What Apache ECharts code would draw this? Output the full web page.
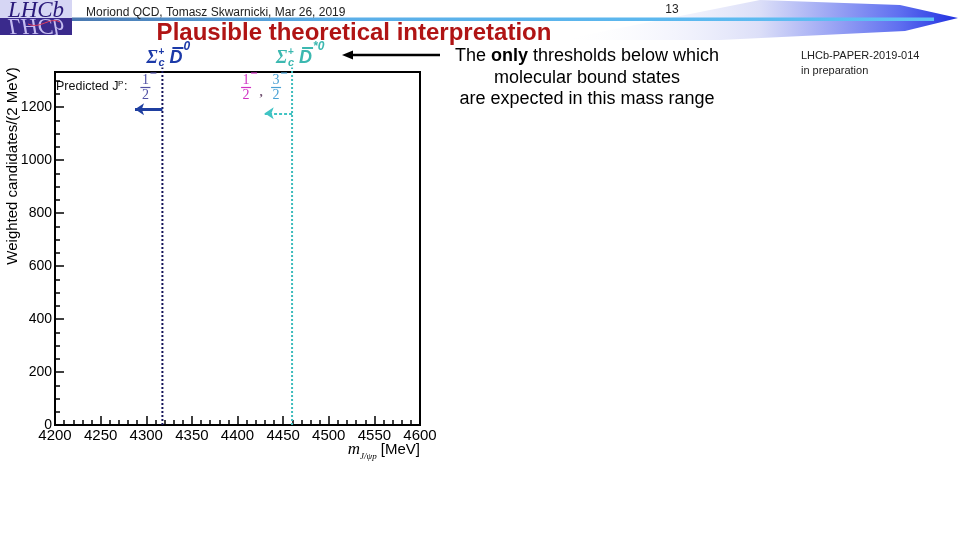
<!DOCTYPE html>
<html><head><meta charset="utf-8">
<script src="https://cdn.jsdelivr.net/npm/echarts@6/dist/echarts.min.js"></script>
<style>html,body{margin:0;padding:0;background:#fff}#c{width:960px;height:540px}</style>
</head><body><div id="c"></div>
<script>
// ---- data ----
const xRange = [4200, 4600];
const yRange = [0, 1333];
const xMajorStep = 50;
const yMajorStep = 200;
const yMinorStep = 50;
const thresholdMasses = [4317.7, 4459.8];          // Σc+ D̄0 , Σc+ D̄*0
const thresholdTop = 1350;
const thresholdColors = ['#14145a', '#3cbcbc'];
const thresholdSup = ['0', '*0'];
const arrowHeights = [1192, 1177];
const arrowLengths = [30, 30];
const arrowColors = ['#1f3fa0', '#40c4c4'];
const arrowStyles = ['solid', 'dashed'];

const sans = 'Liberation Sans';
const serif = 'Liberation Serif';

const chart = echarts.init(document.getElementById('c'), null, {renderer: 'canvas'});

const series = [];
thresholdMasses.forEach((m, i) => {
  series.push({
    type: 'line', name: 'thr' + i, xAxisIndex: 0, yAxisIndex: 0,
    data: [[m, yRange[0]], [m, thresholdTop]],
    symbol: 'none', clip: false, silent: true,
    lineStyle: {color: thresholdColors[i], width: 2, type: [2, 2]},
    markLine: {
      silent: true, symbol: ['none', 'arrow'], symbolSize: [9, 9],
      label: {show: false},
      lineStyle: {color: arrowColors[i], width: i === 0 ? 3 : 2, type: arrowStyles[i] === 'dashed' ? [3, 2] : 'solid'},
      data: [[{coord: [m, arrowHeights[i]]}, {coord: [m - arrowLengths[i], arrowHeights[i]]}]]
    }
  });
});

const option = {
  animation: false,
  backgroundColor: '#fff',
  grid: {left: 55, top: 72, width: 365, height: 353, show: true, borderColor: '#000', borderWidth: 2, backgroundColor: 'transparent'},
  xAxis: [{
    type: 'value', min: xRange[0], max: xRange[1], interval: xMajorStep,
    axisLine: {lineStyle: {color: '#000', width: 2}},
    axisTick: {inside: true, length: 9, lineStyle: {color: '#000', width: 1.5}},
    minorTick: {show: true, splitNumber: 5, length: 5, lineStyle: {color: '#000', width: 1.5}},
    splitLine: {show: false},
    axisLabel: {color: '#000', fontFamily: sans, fontSize: 15, margin: 3, formatter: v => String(v)}
  }],
  yAxis: [{
    type: 'value', min: yRange[0], max: yRange[1], interval: yMajorStep,
    axisLine: {show: true, lineStyle: {color: '#000', width: 2}},
    axisTick: {show: true, inside: true, length: 9, lineStyle: {color: '#000', width: 1.5}},
    splitLine: {show: false},
    axisLabel: {color: '#000', fontFamily: sans, fontSize: 14, margin: 3,
      formatter: v => (v % yMajorStep === 0 ? String(v) : '')}
  }, {
    type: 'value', min: yRange[0], max: yRange[1], interval: yMinorStep, position: 'left',
    axisLine: {show: false},
    axisTick: {show: true, inside: true, length: 5, lineStyle: {color: '#000', width: 1.5}},
    splitLine: {show: false},
    axisLabel: {show: false}
  }],
  series: series
};
chart.setOption(option);

// ---- annotations positioned from the axes ----
const px = v => chart.convertToPixel({xAxisIndex: 0}, v);
const g = [];
function txt(x, y, s, font, color, align, extra) {
  g.push(Object.assign({type: 'text', x: x, y: y, silent: true,
    style: {text: s, font: font, fill: color, align: align || 'left', verticalAlign: 'middle'}}, extra || {}));
}

// slide header decorations
g.push({type: 'polygon', silent: true, shape: {points: [[560, 40], [760, 0], [900, 5], [958, 18], [905, 31], [720, 40]]},
  style: {fill: new echarts.graphic.LinearGradient(0, 0, 1, 0, [
    {offset: 0, color: 'rgba(255,255,255,0)'}, {offset: 0.5, color: '#dcdff8'}, {offset: 0.85, color: '#6070f0'}, {offset: 1, color: '#2030e0'}])}});
g.push({type: 'rect', silent: true, shape: {x: 72, y: 17.5, width: 862, height: 3.5},
  style: {fill: new echarts.graphic.LinearGradient(0, 0, 1, 0, [
    {offset: 0, color: '#4a78b0'}, {offset: 0.3, color: '#5aaee8'}, {offset: 1, color: '#5ec0f4'}])}});
// logo
g.push({type: 'rect', silent: true, shape: {x: 0, y: 0, width: 72, height: 18}, style: {fill: '#d6d6f4'}});
g.push({type: 'rect', silent: true, shape: {x: 0, y: 18, width: 72, height: 17}, style: {fill: '#3a2a8c'}});
g.push({type: 'text', silent: true, x: 36, y: 22, style: {text: 'LHCb', font: 'italic 23px ' + serif, fill: '#2a1a7a', align: 'center', verticalAlign: 'bottom'}});
g.push({type: 'text', silent: true, x: 36, y: 14, scaleY: -1, style: {text: 'LHCb', font: 'italic 23px ' + serif, fill: '#c4bcf0', align: 'center', verticalAlign: 'bottom'}});
g.push({type: 'bezierCurve', silent: true, shape: {x1: 28, y1: 24, x2: 60, y2: 22, cpx1: 40, cpy1: 30, cpx2: 50, cpy2: 16}, style: {stroke: '#e04060', lineWidth: 1, fill: null}});

txt(86, 13, 'Moriond QCD, Tomasz Skwarnicki, Mar 26, 2019', '12px ' + sans, '#222');
txt(672, 10, '13', '12px ' + sans, '#222', 'center');
txt(354, 33, 'Plausible theoretical interpretation', 'bold 24px ' + sans, '#b01414', 'center');

// right-hand text
g.push({type: 'text', silent: true, x: 587, y: 56, style: {
  text: '{n|The }{b|only}{n| thresholds below which}', align: 'center', verticalAlign: 'middle',
  rich: {n: {font: '18px ' + sans, fill: '#000'}, b: {font: 'bold 18px ' + sans, fill: '#000'}}}});
txt(587, 78, 'molecular bound states', '18px ' + sans, '#000', 'center');
txt(587, 99, 'are expected in this mass range', '18px ' + sans, '#000', 'center');
txt(801, 56, 'LHCb-PAPER-2019-014', '11px ' + sans, '#222');
txt(801, 71, 'in preparation', '11px ' + sans, '#222');

// threshold labels Σc+ D̄0 / Σc+ D̄*0
const labelColors = ['#1c3aa8', '#3cb8b0'];
thresholdMasses.forEach((m, i) => {
  const x = px(m), c = labelColors[i];
  txt(x - 16, 58, 'Σ', 'bold italic 18px ' + serif, c);
  txt(x - 4, 52, '+', 'bold 10px ' + sans, c);
  txt(x - 4, 63, 'c', 'bold italic 11px ' + sans, c);
  txt(x + 7, 58, 'D', 'bold italic 18px ' + sans, c);
  g.push({type: 'line', silent: true, shape: {x1: x + 10, y1: 48, x2: x + 21, y2: 48}, style: {stroke: c, lineWidth: 2}});
  txt(x + 21, 47, thresholdSup[i], 'bold italic 12px ' + sans, c);
});

// predicted J^P
txt(56, 87, 'Predicted J', '12.5px ' + sans, '#111');
txt(118, 84, 'P', '8px ' + sans, '#111');
txt(124, 87, ':', '12.5px ' + sans, '#111');
function frac(cx, num, color) {
  txt(cx, 80, num, '14px ' + serif, color, 'center');
  g.push({type: 'line', silent: true, shape: {x1: cx - 5, y1: 87.5, x2: cx + 5, y2: 87.5}, style: {stroke: color, lineWidth: 1.2}});
  txt(cx, 95, '2', '14px ' + serif, color, 'center');
  g.push({type: 'line', silent: true, shape: {x1: cx + 5, y1: 73, x2: cx + 11, y2: 73}, style: {stroke: color, lineWidth: 1.2}});
}
const x0 = px(thresholdMasses[0]), x1 = px(thresholdMasses[1]);
frac(x0 - 17, '1', '#5050a4');
frac(x1 - 46, '1', '#d030c4');
txt(x1 - 31, 93, ',', 'bold 13px ' + serif, '#705070', 'center');
frac(x1 - 16, '3', '#48a0d4');

// black pointer arrow
g.push({type: 'line', silent: true, shape: {x1: 440, y1: 55, x2: 350, y2: 55}, style: {stroke: '#000', lineWidth: 2.5}});
g.push({type: 'polygon', silent: true, shape: {points: [[342, 55], [353, 50.5], [353, 59.5]]}, style: {fill: '#000'}});

// axis titles
g.push({type: 'text', silent: true, x: 13, y: 166, rotation: Math.PI / 2,
  style: {text: 'Weighted candidates/(2 MeV)', font: '15px ' + sans, fill: '#000', align: 'center', verticalAlign: 'middle'}});
g.push({type: 'text', silent: true, x: 420, y: 450, style: {
  text: '{m|m}{s|J/ψp}{n| [MeV]}', align: 'right', verticalAlign: 'middle',
  rich: {m: {font: 'italic 17px ' + serif, fill: '#000'}, s: {font: 'italic 9px ' + serif, fill: '#000', verticalAlign: 'bottom', lineHeight: 22}, n: {font: '15px ' + sans, fill: '#000'}}}});

chart.setOption({graphic: {elements: g}});
</script></body></html>
